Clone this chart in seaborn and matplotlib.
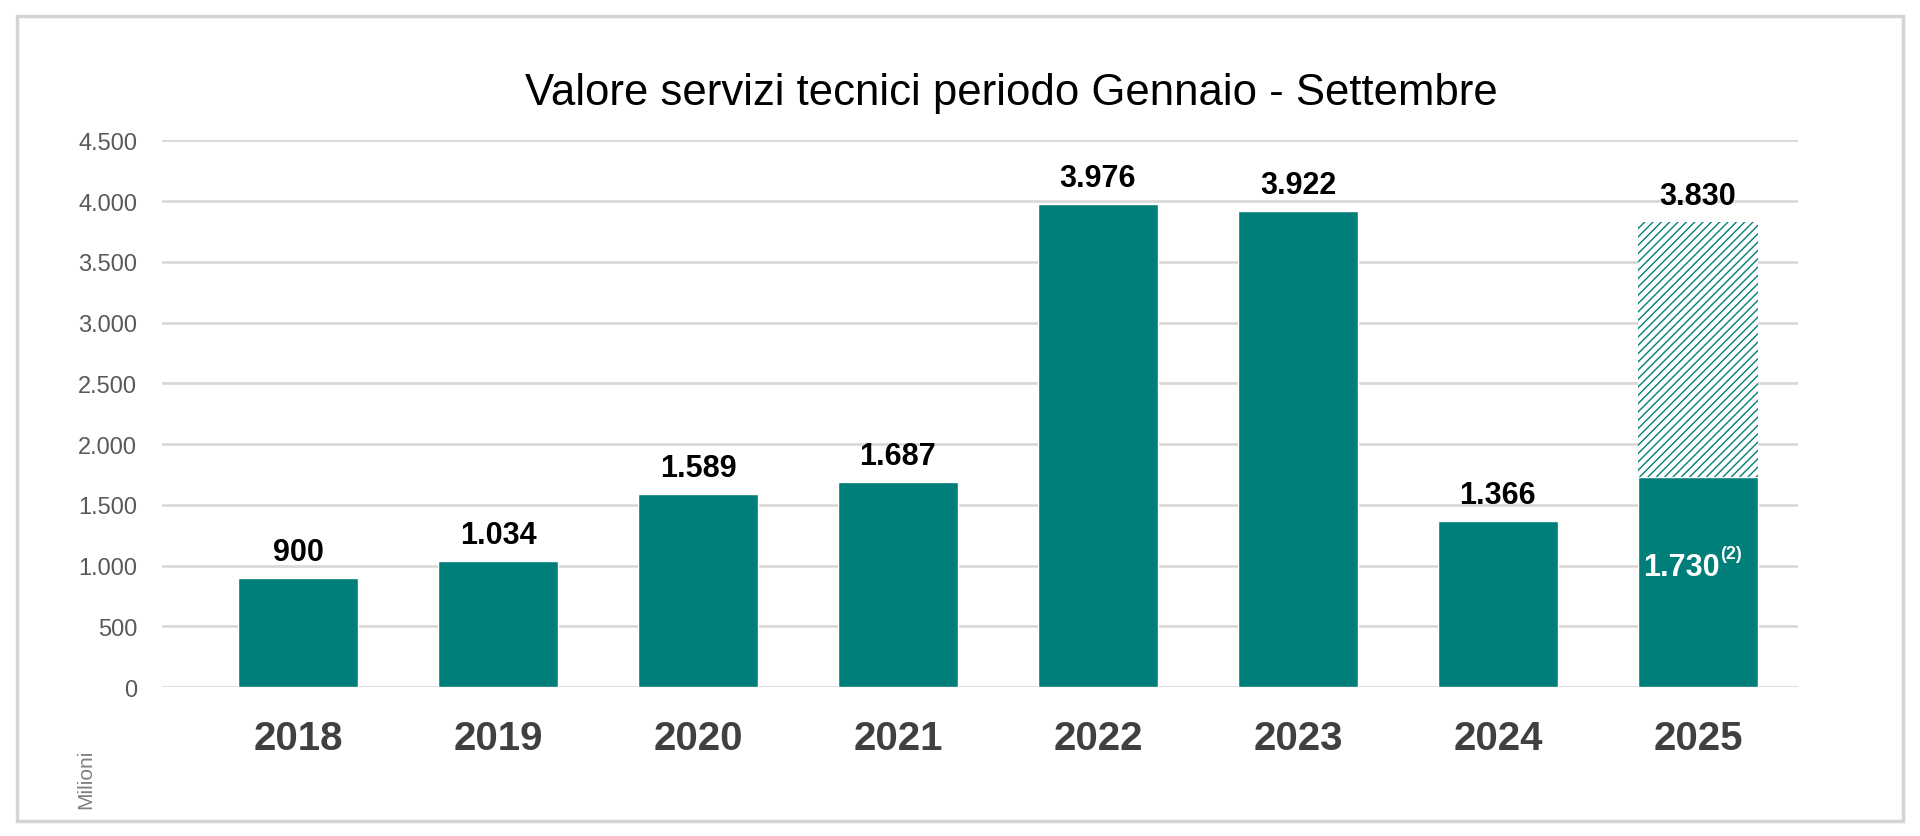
import pandas as pd
import matplotlib.pyplot as plt
import seaborn as sns
from matplotlib.patches import Rectangle

# Data (milioni di euro)
anni = ['2018', '2019', '2020', '2021', '2022', '2023', '2024', '2025']
valori = [900, 1034, 1589, 1687, 3976, 3922, 1366, 1730]
etichette = ['900', '1.034', '1.589', '1.687', '3.976', '3.922', '1.366', '']
stima_2025 = 3830
etichetta_stima = '3.830'
etichetta_2025 = '1.730'
nota_2025 = '(2)'
y_ticks = [0, 500, 1000, 1500, 2000, 2500, 3000, 3500, 4000, 4500]
y_ticklabels = ['0', '500', '1.000', '1.500', '2.000', '2.500', '3.000', '3.500', '4.000', '4.500']

teal = '#007e7a'

sns.set_theme(style='white')
plt.rcParams['font.family'] = ['Liberation Sans', 'DejaVu Sans']
plt.rcParams['hatch.linewidth'] = 1.0

df = pd.DataFrame({'anno': anni, 'valore': valori})

fig = plt.figure(figsize=(19.2, 8.37), dpi=100)
ax = fig.add_axes([0.0844, 0.178, 0.852, 0.653])

sns.barplot(data=df, x='anno', y='valore', color=teal, saturation=1, width=0.6, ax=ax)
ax.bar_label(ax.containers[0], labels=etichette, padding=8, fontsize=22,
             fontweight='bold', color='black')

# projected part of 2025, hatched on top of the solid bar
i25 = anni.index('2025')
proj = ax.bar(i25, stima_2025 - valori[i25], bottom=valori[i25], width=0.6,
              facecolor='white', edgecolor=teal, hatch='////', linewidth=0)
ax.bar_label(proj, labels=[etichetta_stima], padding=8, fontsize=22,
             fontweight='bold', color='black')

# value inside the 2025 bar with footnote mark
y_in = valori[i25] * 0.57
ax.text(i25 + 0.11, y_in, etichetta_2025, ha='right', va='center',
        fontsize=22, fontweight='bold', color='white')
ax.text(i25 + 0.112, y_in + 40, nota_2025, ha='left', va='bottom',
        fontsize=13, fontweight='bold', color='white')

ax.set_ylim(0, 4500)
ax.set_xlim(-0.68, 7.5)
ax.set_yticks(y_ticks)
ax.set_yticklabels(y_ticklabels)
ax.yaxis.grid(True, color='#d9d9d9', linewidth=2)
ax.set_axisbelow(True)
for s in ax.spines.values():
    s.set_visible(False)
ax.tick_params(axis='y', length=0, pad=18, labelsize=17, labelcolor='#595959')
ax.tick_params(axis='x', length=0, pad=23, labelsize=29, labelcolor='#404040')
for t in ax.get_xticklabels():
    t.set_fontweight('bold')
ax.set_xlabel('')
ax.set_ylabel('')

fig.text(0.527, 0.888, 'Valore servizi tecnici periodo Gennaio - Settembre',
         ha='center', va='center', fontsize=31.5, color='black')
fig.text(0.0447, 0.069, 'Milioni', rotation=90, ha='center', va='center',
         fontsize=15, color='#7f7f7f')

# light frame around the chart
fig.patches.append(Rectangle((17 / 1920, 1 - 822 / 837), 1886 / 1920, 805 / 837,
                             transform=fig.transFigure, fill=False,
                             edgecolor='#d4d4d4', linewidth=2.5))

fig.savefig('out.png', dpi=100)
